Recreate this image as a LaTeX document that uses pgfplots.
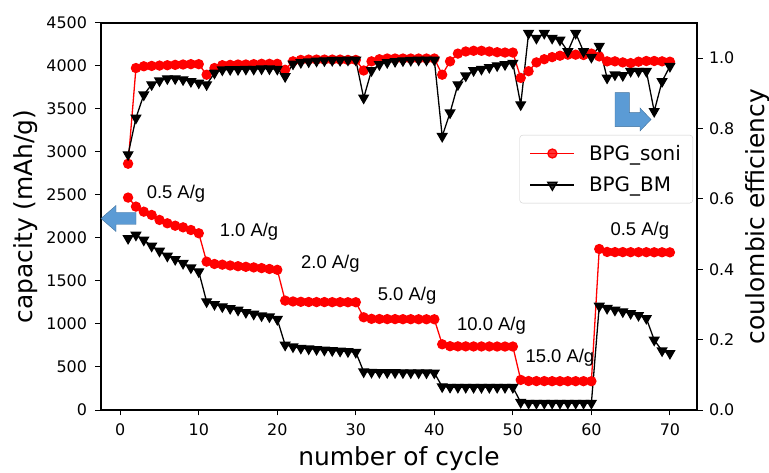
\documentclass[border=0pt]{standalone}
\usepackage{fontspec}
\setmainfont{DejaVu Sans}
\newfontfamily\arial{Liberation Sans}
\usepackage{pgfplots}
\usepackage{pgfplotstable}
\pgfplotsset{compat=1.18}
\definecolor{arrowblue}{HTML}{5B9BD5}
\definecolor{arrowedge}{HTML}{41719C}

\pgfplotstableread{
cyc capS capB ceS ceB
1 2470 1996 0.700 0.726
2 2365 2035 0.972 0.830
3 2306 1977 0.977 0.896
4 2268 1907 0.978 0.925
5 2210 1849 0.979 0.936
6 2171 1791 0.980 0.942
7 2143 1752 0.981 0.942
8 2124 1706 0.982 0.939
9 2093 1655 0.983 0.934
10 2055 1609 0.983 0.930
11 1725 1260 0.953 0.925
12 1698 1229 0.972 0.958
13 1690 1202 0.980 0.967
14 1680 1182 0.981 0.968
15 1672 1163 0.982 0.968
16 1665 1136 0.982 0.969
17 1658 1116 0.983 0.969
18 1650 1097 0.984 0.970
19 1640 1085 0.984 0.970
20 1630 1055 0.984 0.969
21 1272 756 0.967 0.948
22 1262 736 0.991 0.984
23 1258 720 0.995 0.988
24 1256 712 0.996 0.990
25 1255 705 0.996 0.992
26 1255 698 0.996 0.993
27 1254 692 0.996 0.994
28 1254 686 0.996 0.994
29 1253 680 0.995 0.995
30 1253 672 0.995 0.995
31 1078 445 0.965 0.887
32 1060 440 0.991 0.965
33 1058 438 0.997 0.982
34 1057 437 0.999 0.988
35 1057 436 0.999 0.991
36 1056 435 0.999 0.993
37 1056 434 0.999 0.994
38 1055 433 0.999 0.995
39 1055 433 0.999 0.995
40 1055 432 0.999 0.995
41 764 272 0.953 0.778
42 742 266 0.991 0.845
43 740 265 1.013 0.925
44 740 265 1.019 0.950
45 739 264 1.021 0.965
46 739 264 1.021 0.969
47 739 264 1.019 0.974
48 738 264 1.017 0.979
49 738 264 1.016 0.982
50 738 264 1.016 0.986
51 350 90 0.944 0.868
52 337 80 0.963 1.071
53 336 80 0.988 1.057
54 336 80 0.997 1.071
55 335 80 1.003 1.057
56 335 80 1.007 1.052
57 335 80 1.010 1.019
58 335 80 1.010 1.071
59 335 80 1.009 1.019
60 335 80 1.013 1.003
61 1872 1209 1.005 1.034
62 1838 1183 0.991 0.944
63 1836 1163 0.991 0.953
64 1836 1144 0.988 0.951
65 1835 1124 0.986 0.963
66 1835 1101 0.990 0.963
67 1835 1066 0.992 0.963
68 1834 814 0.992 0.849
69 1834 690 0.991 0.934
70 1833 659 0.990 0.977
}\datatable

\begin{document}
\begin{tikzpicture}
\path[use as bounding box] (-101bp,-63bp) rectangle (668bp,410bp);
\pgfplotsset{
  common/.style={
    at={(0,0)}, anchor=south west,
    width=596bp, height=387bp, scale only axis,
    xmin=-2.45, xmax=73.45,
    tick align=outside, major tick length=5.5bp,
    every tick/.style={black, line width=1bp},
    axis line style={line width=1.2bp},
    tick label style={font=\fontsize{16}{19}\selectfont},
    /pgf/number format/assume math mode=true,
    label style={font=\fontsize{25}{30}\selectfont},
  },
  legend image code/.code={\draw[mark=none] (0bp,0bp) -- (44bp,0bp); \draw plot coordinates {(22bp,0bp)};},
}
\begin{axis}[common,
  ymin=0, ymax=4500,
  xtick={0,10,20,30,40,50,60,70},
  ytick={0,500,1000,1500,2000,2500,3000,3500,4000,4500},
  xtick pos=left, ytick pos=left,
  scaled y ticks=false,
  yticklabel style={xshift=-5bp, /pgf/number format/1000 sep={}},
  xticklabel style={yshift=-5bp},
  xlabel={number of cycle}, ylabel={capacity (mAh/g)},
  xlabel style={at={(axis description cs:0.5,-0.1447)}, anchor=base},
  ylabel style={at={(axis description cs:-0.1141,0.5)}, anchor=base},
]
\addplot[red, line width=1.3bp, mark=*, mark size=4.5bp] table[x=cyc, y=capS] {\datatable};
\addplot[black, line width=1.3bp, mark=triangle*, mark size=5.3bp, mark options={rotate=180}] table[x=cyc, y=capB] {\datatable};
\begin{scope}[font=\arial\fontsize{18.5}{22}\selectfont]
\node[anchor=base west] at (axis cs:2.93,2462) {0.5 A/g};
\node[anchor=base west] at (axis cs:12.23,2015) {1.0 A/g};
\node[anchor=base west] at (axis cs:22.6,1640) {2.0 A/g};
\node[anchor=base west] at (axis cs:32.36,1271) {5.0 A/g};
\node[anchor=base west] at (axis cs:42.46,919) {10.0 A/g};
\node[anchor=base west] at (axis cs:51.17,555) {15.0 A/g};
\node[anchor=base west] at (axis cs:62.0,2024) {0.5 A/g};
\end{scope}
\end{axis}
\begin{axis}[common,
  ymin=0, ymax=1.1,
  ytick={0,0.2,0.4,0.6,0.8,1.0},
  axis x line=none, axis y line*=right,
  yticklabel style={xshift=3bp, /pgf/number format/fixed, /pgf/number format/fixed zerofill, /pgf/number format/precision=1},
  ylabel={coulombic efficiency},
  ylabel style={at={(axis description cs:1.1124,0.5)}, anchor=base},
  legend style={at={(axis description cs:0.9933,0.7106)}, anchor=north east,
    draw=black!20, rounded corners=3bp, fill=white, fill opacity=0.8, text opacity=1,
    font=\fontsize{20}{24}\selectfont, inner xsep=10bp, inner ysep=8bp, row sep=11bp,
    /tikz/every odd column/.append style={column sep=12bp}},
  legend cell align=left,
]
\addplot[red, line width=1.3bp, mark=*, mark size=4.5bp] table[x=cyc, y=ceS] {\datatable};
\addlegendentry{BPG\_soni}
\addplot[black, line width=1.3bp, mark=triangle*, mark size=5.3bp, mark options={rotate=180}] table[x=cyc, y=ceB] {\datatable};
\addlegendentry{BPG\_BM}
\end{axis}
% blue arrows (decoration)
\fill[arrowblue, draw=arrowedge, line width=0.4bp]
  (0,191.5bp) -- (15bp,204.5bp) -- (15bp,197.5bp) -- (35bp,197.5bp) -- (35bp,185.5bp) -- (15bp,185.5bp) -- (15bp,178.5bp) -- cycle;
\fill[arrowblue, draw=arrowedge, line width=0.4bp]
  (514bp,317.3bp) -- (528.3bp,317.3bp) -- (528.3bp,297.3bp) -- (539bp,297.3bp) -- (539bp,302bp) -- (550bp,290.5bp) -- (539bp,279bp) -- (539bp,283.3bp) -- (514bp,283.3bp) -- cycle;
\end{tikzpicture}
\end{document}
